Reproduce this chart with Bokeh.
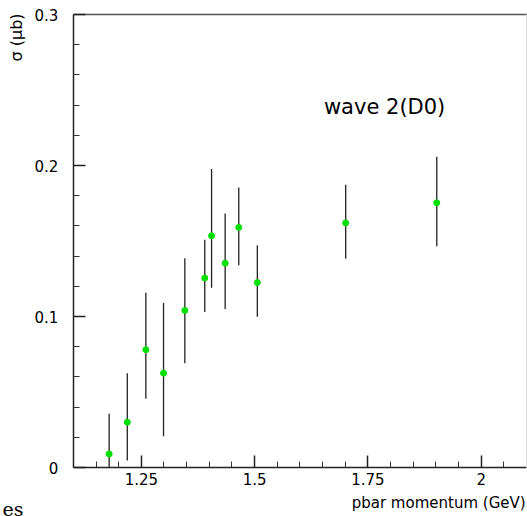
import math
from bokeh.plotting import figure
from bokeh.models import FixedTicker, Label, Range1d, LinearAxis
from bokeh.embed import file_html
from bokeh.resources import INLINE

# Data
momentum = [1.179, 1.219, 1.260, 1.299, 1.346, 1.390, 1.405, 1.435, 1.465, 1.506, 1.701, 1.902]
sigma    = [0.009, 0.030, 0.078, 0.0625, 0.104, 0.1255, 0.1535, 0.1353, 0.159, 0.1225, 0.162, 0.1753]
err_hi   = [0.0356, 0.0625, 0.1157, 0.109, 0.1386, 0.1508, 0.1976, 0.1682, 0.1854, 0.1472, 0.1872, 0.2058]
err_lo   = [0.000, 0.0046, 0.0455, 0.0207, 0.069, 0.1029, 0.119, 0.1049, 0.134, 0.0998, 0.1382, 0.1466]

x_major = [1.25, 1.5, 1.75, 2.0]
x_minor = [1.15, 1.2, 1.3, 1.35, 1.4, 1.45, 1.55, 1.6, 1.65, 1.7, 1.8, 1.85, 1.9, 1.95, 2.05]
x_labels = {1.25: "1.25", 1.5: "1.5", 1.75: "1.75", 2.0: "2"}
y_major = [0.0, 0.1, 0.2, 0.3]
y_minor = [0.02, 0.04, 0.06, 0.08, 0.12, 0.14, 0.16, 0.18, 0.22, 0.24, 0.26, 0.28]
y_labels = {0.0: "0", 0.1: "0.1", 0.2: "0.2", 0.3: "0.3"}

X_LO, X_HI = 1.1, 2.1     # axis extent
Y_LO, Y_HI = 0.0, 0.3

FONT = "DejaVu Sans"

# the frame covers the whole canvas; axes are placed at fixed data locations
p = figure(width=527, height=516, output_backend="svg", toolbar_location=None,
           x_range=Range1d(X_LO - 73 / 454, X_HI + 1 / 454),
           y_range=Range1d(Y_LO - 49 / 1510, Y_HI + 14 / 1510),
           x_axis_type=None, y_axis_type=None,
           min_border_left=0, min_border_right=0, min_border_top=0, min_border_bottom=0)
p.background_fill_color = "white"
p.border_fill_color = "white"
p.outline_line_color = None
p.xgrid.visible = False
p.ygrid.visible = False


def style(ax, major, minor, labels, standoff):
    ax.ticker = FixedTicker(ticks=major, minor_ticks=minor)
    ax.major_label_overrides = labels
    ax.major_tick_in = 12
    ax.major_tick_out = 0
    ax.minor_tick_in = 6
    ax.minor_tick_out = 0
    ax.axis_line_color = "#222222"
    ax.axis_line_width = 1.5
    ax.major_tick_line_color = "#222222"
    ax.major_tick_line_width = 1.5
    ax.minor_tick_line_color = "#333333"
    ax.minor_tick_line_width = 1
    ax.major_label_text_font = FONT
    ax.major_label_text_font_size = "15px"
    ax.major_label_text_color = "black"
    ax.major_label_standoff = standoff


xaxis = LinearAxis(fixed_location=Y_LO, bounds=(X_LO, X_HI))
style(xaxis, x_major, x_minor, x_labels, 5)
p.add_layout(xaxis, "below")

yaxis = LinearAxis(fixed_location=X_LO, bounds=(Y_LO, Y_HI))
style(yaxis, y_major, y_minor, y_labels, 15)
p.add_layout(yaxis, "left")

top = LinearAxis(fixed_location=Y_HI, bounds=(X_LO, X_HI + 1 / 454), major_tick_in=0, major_tick_out=0,
                 minor_tick_in=0, minor_tick_out=0, major_label_text_font_size="0px",
                 axis_line_color="#555555", axis_line_width=1.5)
top.ticker = FixedTicker(ticks=[])
p.add_layout(top, "above")

right = LinearAxis(fixed_location=X_HI, bounds=(Y_LO, Y_HI), major_tick_in=0, major_tick_out=0,
                   minor_tick_in=0, minor_tick_out=0, major_label_text_font_size="0px",
                   axis_line_color="#dddddd", axis_line_width=1)
right.ticker = FixedTicker(ticks=[])
p.add_layout(right, "right")

# error bars
p.segment(x0=momentum, y0=err_lo, x1=momentum, y1=err_hi, line_color="#222222", line_width=1.3)
# points
p.scatter(x=momentum, y=sigma, size=6, fill_color="#00e000", line_color="#00e000")

# texts
p.add_layout(Label(x=1.653, y=0.239, text="wave 2(D0)", text_font=FONT,
                   text_font_size="21px", text_color="black", text_baseline="alphabetic"))
p.add_layout(Label(x=2.098, y=-0.0237, text="pbar momentum (GeV)", text_font=FONT,
                   text_font_size="15px", text_color="black", text_align="right",
                   text_baseline="alphabetic"))
p.add_layout(Label(x=0.9744, y=0.3007, text="σ (μb)", text_font=FONT, angle=math.pi / 2,
                   text_font_size="16px", text_color="black", text_align="right",
                   text_baseline="middle"))
p.add_layout(Label(x=0.9436, y=-0.0272, text="es", text_font="DejaVu Serif",
                   text_font_size="19px", text_color="black", text_baseline="alphabetic"))

open("out.html", "w").write(file_html(p, INLINE))
